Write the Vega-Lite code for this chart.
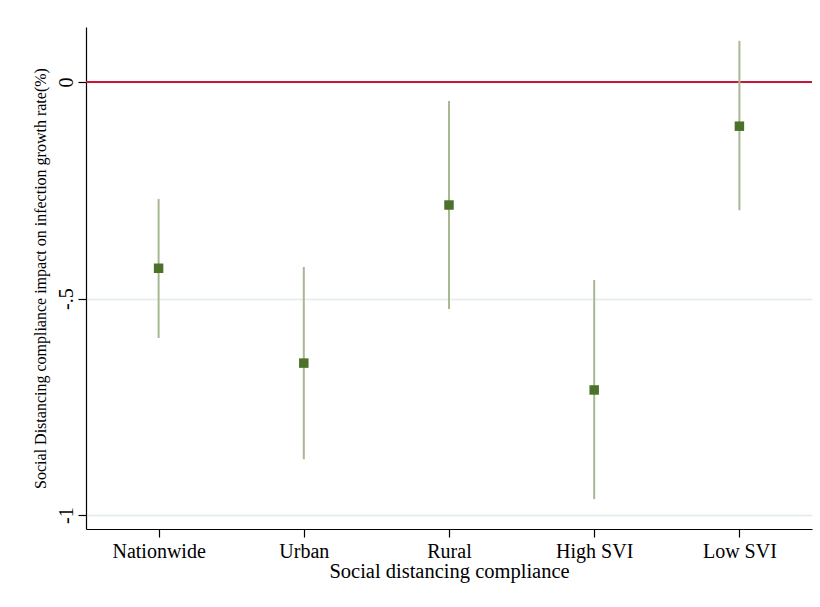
{
  "$schema": "https://vega.github.io/schema/vega-lite/v6.json",
  "autosize": "none",
  "width": 726,
  "height": 502,
  "padding": {"left": 86, "top": 27, "right": 8, "bottom": 78},
  "background": "white",
  "config": {
    "view": {"stroke": null},
    "font": "Liberation Serif",
    "axis": {"labelFont": "Liberation Serif", "titleFont": "Liberation Serif", "labelColor": "#000", "titleColor": "#000", "domainColor": "#000", "tickColor": "#000", "titleFontWeight": "normal"}
  },
  "data": {
    "values": [
      {"group": "Nationwide", "est": -0.43, "lo": -0.591, "hi": -0.270},
      {"group": "Urban", "est": -0.649, "lo": -0.871, "hi": -0.427},
      {"group": "Rural", "est": -0.284, "lo": -0.524, "hi": -0.044},
      {"group": "High SVI", "est": -0.711, "lo": -0.963, "hi": -0.457},
      {"group": "Low SVI", "est": -0.102, "lo": -0.296, "hi": 0.095}
    ]
  },
  "encoding": {
    "x": {
      "field": "group", "type": "nominal", "sort": null,
      "scale": {"type": "point", "padding": 0.5},
      "axis": {
        "title": "Social distancing compliance", "labelAngle": 0,
        "labelFontSize": 20, "titleFontSize": 20.5, "tickSize": 8, "labelPadding": 4,
        "titlePadding": 0, "domainWidth": 1.2, "tickWidth": 1.2, "grid": false
      }
    }
  },
  "layer": [
    {
      "mark": {"type": "rule", "color": "#c8163c", "strokeWidth": 1.6},
      "encoding": {"y": {"datum": 0, "type": "quantitative"}, "x": null}
    },
    {
      "mark": {"type": "rule", "color": "#a9b894", "strokeWidth": 2},
      "encoding": {
        "y": {
          "field": "lo", "type": "quantitative",
          "scale": {"domain": [-1.032, 0.127], "nice": false, "zero": false},
          "axis": {
            "title": "Social Distancing compliance impact on infection growth rate(%)",
            "values": [0, -0.5, -1],
            "labelExpr": "datum.value == 0 ? '0' : datum.value == -1 ? '-1' : '-.5'",
            "labelAngle": -90, "labelAlign": "center", "labelBaseline": "bottom",
            "labelFontSize": 20, "titleFontSize": 16, "tickSize": 8, "labelPadding": 2,
            "titlePadding": 8, "domainWidth": 1.2, "tickWidth": 1.2,
            "grid": true, "gridColor": "#e1ecec", "gridWidth": 1.5
          }
        },
        "y2": {"field": "hi"}
      }
    },
    {
      "mark": {"type": "square", "color": "#4b7228", "opacity": 1, "size": 90, "filled": true},
      "encoding": {"y": {"field": "est", "type": "quantitative"}}
    }
  ]
}
